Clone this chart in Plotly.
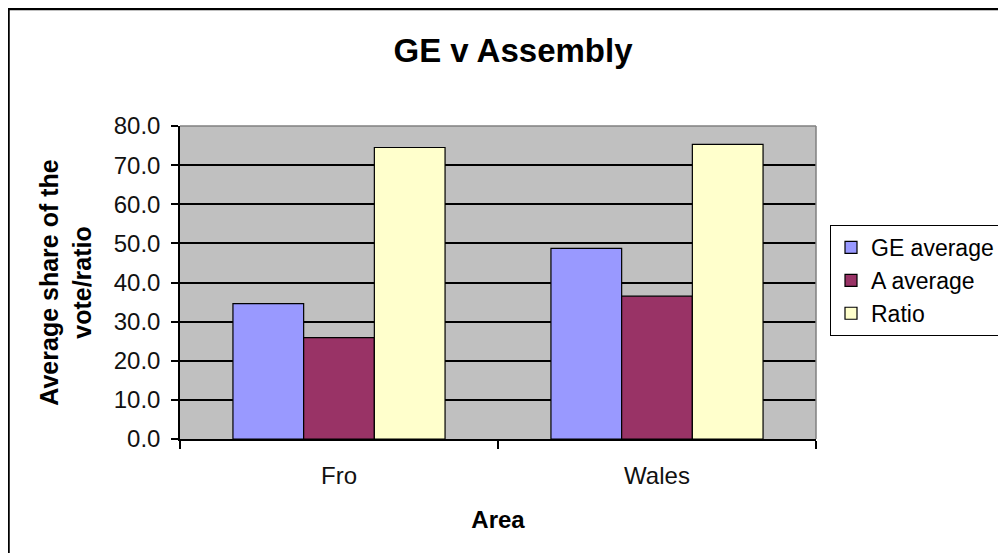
import plotly.graph_objects as go

areas = ["Fro", "Wales"]
ge_average = [34.6, 48.7]
a_average = [25.9, 36.5]
ratio = [74.5, 75.3]
series_names = ["GE average", "A average", "Ratio"]
series_colors = ["#9999FF", "#993366", "#FFFFCC"]
y_ticks = [0, 10, 20, 30, 40, 50, 60, 70, 80]

W, H = 1006, 553
OFF = 8  # page body margin offset
L, R, T, B = 180 - OFF, 816 - OFF, 126 - OFF, 439 - OFF

fig = go.Figure()
for name, vals, col in zip(series_names, [ge_average, a_average, ratio], series_colors):
    fig.add_trace(go.Bar(
        x=areas, y=vals, name=name,
        marker=dict(color=col, line=dict(color="#000000", width=1.2)),
    ))

def px_x(x):
    return (x - OFF - L) / (R - L)

def px_y(y):
    return (B - (y - OFF)) / (B - T)

font_family = "Liberation Sans, Arial, sans-serif"

fig.update_layout(
    width=W, height=H,
    margin=dict(l=L, r=W - R, t=T, b=H - B, autoexpand=False),
    paper_bgcolor="white",
    plot_bgcolor="#C0C0C0",
    barmode="group",
    bargap=0.333,
    bargroupgap=0,
    font=dict(family=font_family, color="#000000", size=24),
    title=dict(
        text="<b>GE v Assembly</b>",
        x=(513 - OFF) / W, xref="container", xanchor="center",
        y=1 - (50 - OFF) / H, yref="container", yanchor="middle",
        font=dict(size=33, color="#000000", family=font_family),
    ),
    showlegend=True,
    legend=dict(
        x=px_x(830), y=px_y(225), xanchor="left", yanchor="top",
        bordercolor="#000000", borderwidth=1, bgcolor="white",
        font=dict(size=23, color="#000000", family=font_family),
        traceorder="normal",
    ),
    xaxis=dict(
        type="category",
        showline=True, linecolor="#000000", linewidth=1.5,
        ticks="outside", ticklen=8, tickcolor="#000000", tickwidth=1.5,
        tickson="boundaries",
        showgrid=False,
        tickfont=dict(size=24, color="#111111"),
        ticklabelstandoff=14,
        title=dict(text="<b>Area</b>", font=dict(size=24, color="#000000"), standoff=24),
    ),
    yaxis=dict(
        range=[0, 80],
        tickmode="array", tickvals=y_ticks,
        tickformat=".1f",
        showline=True, linecolor="#000000", linewidth=1.5,
        ticks="outside", ticklen=7, tickcolor="#000000", tickwidth=1.5,
        showgrid=True, gridcolor="#000000", gridwidth=1.5,
        zeroline=False,
        tickfont=dict(size=24, color="#111111"),
        ticklabelstandoff=6,
        title=dict(text="<b>Average share of the<br>vote/ratio</b>",
                   font=dict(size=25, color="#000000"), standoff=15),
    ),
    shapes=[
        # plot area outline (grey top/right)
        dict(type="line", xref="paper", yref="paper", x0=0, x1=1, y0=1, y1=1,
             line=dict(color="#808080", width=1.5), layer="above"),
        dict(type="line", xref="paper", yref="paper", x0=1, x1=1, y0=0, y1=1,
             line=dict(color="#808080", width=1.5), layer="above"),
        # outer chart border (top and left edges visible)
        dict(type="line", xref="paper", yref="paper",
             x0=px_x(8), x1=px_x(1020), y0=px_y(9), y1=px_y(9),
             line=dict(color="#000000", width=2.5)),
        dict(type="line", xref="paper", yref="paper",
             x0=px_x(8.5), x1=px_x(8.5), y0=px_y(9), y1=px_y(570),
             line=dict(color="#000000", width=2.5)),
    ],
)

fig.write_html("out.html")
